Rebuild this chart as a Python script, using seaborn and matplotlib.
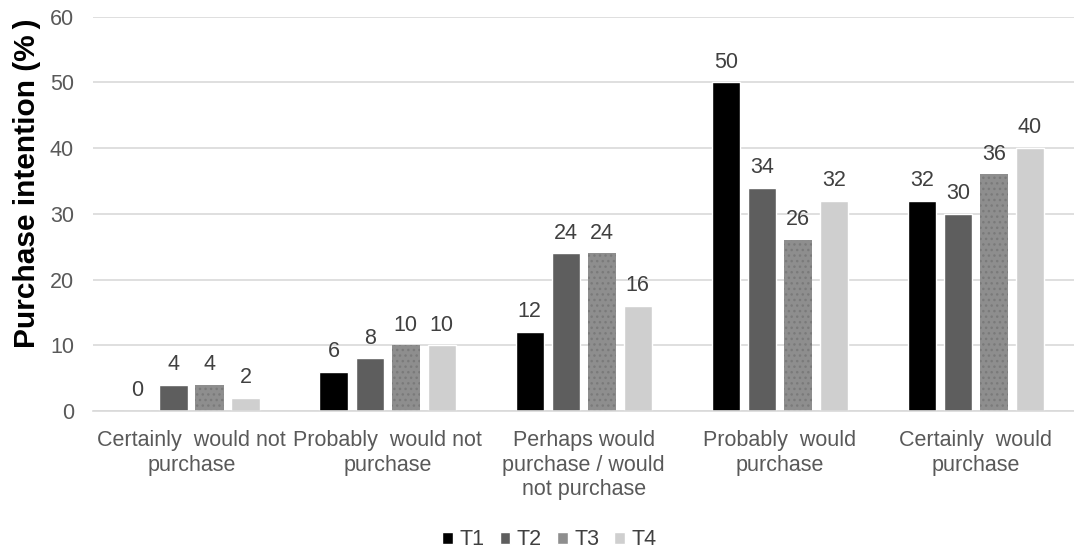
import matplotlib
matplotlib.use("Agg")
import matplotlib.pyplot as plt
import seaborn as sns
import pandas as pd

categories = ["Certainly  would not\npurchase", "Probably  would not\npurchase",
              "Perhaps would\npurchase / would\nnot purchase", "Probably  would\npurchase",
              "Certainly  would\npurchase"]
series = ["T1", "T2", "T3", "T4"]
t1 = [0, 6, 12, 50, 32]
t2 = [4, 8, 24, 34, 30]
t3 = [4, 10, 24, 26, 36]
t4 = [2, 10, 16, 32, 40]
colors = ["#000000", "#5e5e5e", "#8e8e8e", "#cfcfcf"]

rows = []
for s, vals in zip(series, [t1, t2, t3, t4]):
    for c, v in zip(categories, vals):
        rows.append({"cat": c, "series": s, "val": v})
df = pd.DataFrame(rows)

sns.set_theme(style="white")
plt.rcParams["font.family"] = ["Liberation Sans", "DejaVu Sans"]
plt.rcParams["hatch.color"] = "#7a7a7a"

fig = plt.figure(figsize=(10.74, 5.49), dpi=100)
ax = fig.add_axes([0.087, 0.2514, 0.913, 0.718])
sns.barplot(data=df, x="cat", y="val", hue="series", palette=colors,
            width=0.735, gap=0.22, ax=ax, legend=True, saturation=1)

# dotted texture on T3
for bar in ax.containers[2]:
    bar.set_hatch("...")
    bar.set_edgecolor("#7a7a7a")
    bar.set_linewidth(0)

for cont in ax.containers:
    ax.bar_label(cont, fmt="%g", padding=7, fontsize=15.5, color="#404040")

ax.set_ylim(0, 60)
ax.set_yticks(range(0, 61, 10))
ax.yaxis.grid(True, color="#d9d9d9", linewidth=1.2)
ax.set_axisbelow(True)
for sp in ["top", "right", "left"]:
    ax.spines[sp].set_visible(False)
ax.spines["bottom"].set_color("#d9d9d9")
ax.spines["bottom"].set_linewidth(1.2)
ax.tick_params(axis="both", length=0, labelsize=15.5, colors="#595959")
ax.tick_params(axis="y", pad=14)
ax.tick_params(axis="x", pad=14)
ax.set_xlabel("")
ax.set_ylabel("Purchase intention (%\u2009)", fontsize=21.5, fontweight="bold", color="#000000")
ax.yaxis.set_label_coords(-0.053, 0.579)

h, l = ax.get_legend_handles_labels()
ax.legend(h, l, loc="center", bbox_to_anchor=(0.465, -0.327), ncol=4, frameon=False,
          fontsize=15.5, handlelength=0.5, handleheight=0.5, handletextpad=0.3,
          columnspacing=0.7, labelcolor="#404040")

fig.savefig("out.png", dpi=100)
